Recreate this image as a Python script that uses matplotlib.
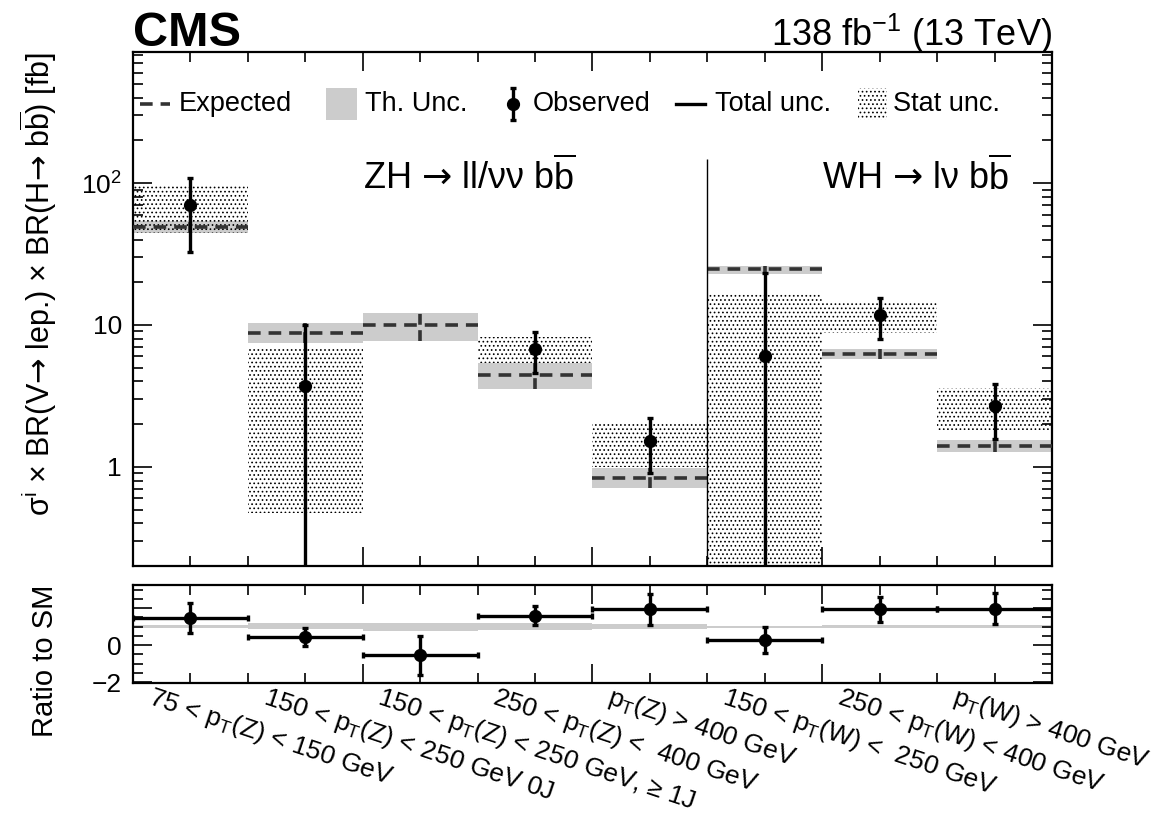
import numpy as np
import matplotlib.pyplot as plt
from matplotlib.ticker import FixedLocator, FixedFormatter, MultipleLocator, LogLocator, NullFormatter
from matplotlib.patches import Rectangle

plt.rcParams['font.family'] = ['Liberation Sans', 'DejaVu Sans']
plt.rcParams['mathtext.fontset'] = 'custom'
plt.rcParams['mathtext.rm'] = 'Liberation Sans'
plt.rcParams['mathtext.it'] = 'Liberation Sans:italic'
plt.rcParams['mathtext.bf'] = 'Liberation Sans:bold'
plt.rcParams['mathtext.sf'] = 'DejaVu Sans'
plt.rcParams['hatch.linewidth'] = 0.7
plt.rcParams['hatch.color'] = 'black'

ARROW = r"$\mathsf{→}$"
BBAR = r"b$\overline{\mathrm{b}}$"

# STXS bins
bin_labels = [
    r"75 < $\mathrm{p_{T}}$(Z) < 150 GeV",
    r"150 < $\mathrm{p_{T}}$(Z) < 250 GeV 0J",
    r"150 < $\mathrm{p_{T}}$(Z) < 250 GeV, ≥ 1J",
    r"250 < $\mathrm{p_{T}}$(Z) <  400 GeV",
    r"$\mathrm{p_{T}}$(Z) > 400 GeV",
    r"150 < $\mathrm{p_{T}}$(W) <  250 GeV",
    r"250 < $\mathrm{p_{T}}$(W) < 400 GeV",
    r"$\mathrm{p_{T}}$(W) > 400 GeV",
]

# cross sections [fb]
exp_xs = np.array([49.0, 8.8, 10.0, 4.45, 0.84, 24.8, 6.25, 1.41])
th_lo = np.array([44.5, 7.46, 7.7, 3.54, 0.71, 22.8, 5.76, 1.28])
th_hi = np.array([54.0, 10.3, 12.2, 5.4, 0.98, 26.0, 6.8, 1.55])
obs_xs = np.array([70.0, 3.72, -5.4, 6.78, 1.52, 6.05, 11.8, 2.69])
tot_lo = np.array([32.7, 0.0, np.nan, 4.6, 0.9, 0.0, 8.0, 1.57])
tot_hi = np.array([108.0, 10.0, np.nan, 8.93, 2.21, 23.3, 15.5, 3.84])
stat_lo = np.array([44.5, 0.474, np.nan, 5.4, 1.0, 0.0, 8.8, 1.82])
stat_hi = np.array([97.0, 7.0, np.nan, 8.2, 2.04, 16.8, 14.5, 3.6])

# ratio to SM
ratio_obs = np.array([1.48, 0.45, -0.54, 1.57, 1.93, 0.27, 1.95, 1.98])
ratio_hi = np.array([2.27, 0.92, 0.50, 2.12, 2.76, 0.96, 2.58, 2.80])
ratio_lo = np.array([0.67, -0.04, -1.62, 1.08, 1.08, -0.45, 1.26, 1.12])

n = len(bin_labels)
edges = np.arange(n + 1)
centers = edges[:-1] + 0.5

exp_col = '#333333'
band_col = '#cccccc'
dash = (3.5, 2.2)
hatch = '....'
err_kw = dict(fmt='o', color='black', ms=8.5, lw=2.4, capsize=2.5, capthick=2.4)

fig = plt.figure(figsize=(11.56, 8.24), dpi=100)
ax = fig.add_axes([0.115, 0.3131, 0.795, 0.6238])
rax = fig.add_axes([0.115, 0.1711, 0.795, 0.1189])

# main panel
for i in range(n):
    x = [edges[i], edges[i + 1]]
    ax.fill_between(x, th_lo[i], th_hi[i], color=band_col, lw=0, zorder=1)
    if not np.isnan(stat_lo[i]):
        ax.fill_between(x, stat_lo[i], stat_hi[i], facecolor='none',
                        edgecolor='black', hatch=hatch, lw=0, zorder=2)
    ax.plot(x, [exp_xs[i]] * 2, color=exp_col, lw=2.6, dashes=dash, zorder=3)
    ax.plot([centers[i]] * 2, [th_lo[i], th_hi[i]], color=exp_col, lw=2.6,
            dashes=(3, 1.5), zorder=3)

m = obs_xs > 0
ax.errorbar(centers[m], obs_xs[m],
            yerr=[obs_xs[m] - tot_lo[m], tot_hi[m] - obs_xs[m]],
            zorder=5, **err_kw)

ax.set_yscale('log')
ax.set_xlim(0, n)
ax.set_ylim(0.2, 840)
ax.vlines(5, 0.2, 147, color='black', lw=1.0, zorder=4)

ax.text(2.0, 90, f"ZH {ARROW} ll/νν {BBAR}", fontsize=26, va='baseline')
ax.text(6.0, 90, f"WH {ARROW} lν {BBAR}", fontsize=26, va='baseline')

ax.yaxis.set_major_locator(FixedLocator([1, 10, 100]))
ax.yaxis.set_major_formatter(FixedFormatter(['1', '10', '$10^{2}$']))
ax.yaxis.set_minor_locator(LogLocator(base=10, subs=np.arange(2, 10)))
ax.yaxis.set_minor_formatter(NullFormatter())
ax.xaxis.set_major_locator(MultipleLocator(2))
ax.xaxis.set_minor_locator(MultipleLocator(0.5))

ax.set_ylabel(f"σ$^{{\\mathrm{{i}}}}$ × BR(V{ARROW} lep.) × BR(H{ARROW} {BBAR}) [fb]",
              fontsize=22, loc='top')
ax.yaxis.set_label_coords(-0.080, 1.0)

# ratio panel
for i in range(n):
    x = [edges[i], edges[i + 1]]
    rax.fill_between(x, th_lo[i] / exp_xs[i], th_hi[i] / exp_xs[i],
                     color=band_col, lw=0, zorder=1)
rax.errorbar(centers, ratio_obs, xerr=0.5,
             yerr=[ratio_obs - ratio_lo, ratio_hi - ratio_obs],
             zorder=5, **err_kw)
rax.set_xlim(0, n)
rax.set_ylim(-2.05, 3.25)
rax.yaxis.set_major_locator(FixedLocator([-2, 0, 2]))
rax.yaxis.set_major_formatter(FixedFormatter(['−2', '0', '']))
rax.yaxis.set_minor_locator(MultipleLocator(0.5))
rax.xaxis.set_major_locator(MultipleLocator(2))
rax.xaxis.set_minor_locator(MultipleLocator(0.5))
rax.set_ylabel("Ratio to SM", fontsize=21, loc='top')
rax.yaxis.set_label_coords(-0.080, 1.0)

for a in (ax, rax):
    a.tick_params(which='both', direction='in', top=True, right=True,
                  labelbottom=False, labelsize=19, pad=8)
    a.tick_params(which='major', length=14, width=1.2)
    a.tick_params(which='minor', length=7, width=1.2)
    for s in a.spines.values():
        s.set_linewidth(1.6)

for i, lab in enumerate(bin_labels):
    rax.text(centers[i] - 0.32, -0.0, lab, transform=rax.get_xaxis_transform(),
             fontsize=19, rotation=-18.5, rotation_mode='anchor',
             ha='left', va='top')

# legend
ly = 0.899
lfs = 19.5
tr = ax.transAxes
ax.plot([0.0076, 0.0403], [ly, ly], transform=tr, color=exp_col, lw=2.6,
        dashes=dash, clip_on=False)
ax.text(0.050, ly, "Expected", transform=tr, fontsize=lfs, va='center')
ax.add_patch(Rectangle((0.210, 0.868), 0.034, 0.062, transform=tr,
                       facecolor=band_col, lw=0))
ax.text(0.2525, ly, "Th. Unc.", transform=tr, fontsize=lfs, va='center')
ax.errorbar([0.4135], [ly], yerr=[[0.031], [0.031]], transform=tr, **err_kw)
ax.text(0.435, ly, "Observed", transform=tr, fontsize=lfs, va='center')
ax.plot([0.591, 0.623], [ly, ly], transform=tr, color='black', lw=2.4)
ax.text(0.633, ly, "Total unc.", transform=tr, fontsize=lfs, va='center')
ax.add_patch(Rectangle((0.789, 0.868), 0.031, 0.062, transform=tr,
                       facecolor='none', edgecolor='black', hatch=hatch, lw=0))
ax.text(0.827, ly, "Stat unc.", transform=tr, fontsize=lfs, va='center')

fig.text(0.115, 1 - 46 / 824, "CMS", fontsize=35, fontweight='bold', va='baseline')
fig.text(0.910, 1 - 46 / 824, "138 fb$^{-1}$ (13 TeV)", fontsize=26,
         ha='right', va='baseline')

fig.savefig('out.png', dpi=100)
